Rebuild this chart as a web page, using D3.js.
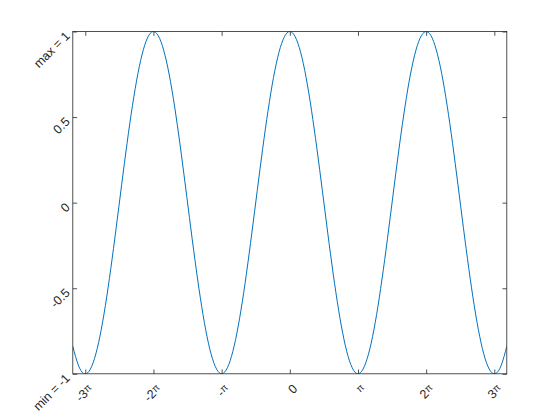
<!DOCTYPE html>
<html>
<head>
<meta charset="utf-8">
<script src="https://cdn.jsdelivr.net/npm/d3@7"></script>
<style>
  body { margin: 0; background: #fff; }
  text { font-family: "Liberation Sans", Arial, sans-serif; }
</style>
</head>
<body>
<svg id="chart" width="560" height="420"></svg>
<script>
const xs = [-10, -9.75, -9.5, -9.25, -9, -8.75, -8.5, -8.25, -8, -7.75, -7.5, -7.25,
  -7, -6.75, -6.5, -6.25, -6, -5.75, -5.5, -5.25, -5, -4.75, -4.5, -4.25,
  -4, -3.75, -3.5, -3.25, -3, -2.75, -2.5, -2.25, -2, -1.75, -1.5, -1.25,
  -1, -0.75, -0.5, -0.25, 0, 0.25, 0.5, 0.75, 1, 1.25, 1.5, 1.75,
  2, 2.25, 2.5, 2.75, 3, 3.25, 3.5, 3.75, 4, 4.25, 4.5, 4.75,
  5, 5.25, 5.5, 5.75, 6, 6.25, 6.5, 6.75, 7, 7.25, 7.5, 7.75,
  8, 8.25, 8.5, 8.75, 9, 9.25, 9.5, 9.75, 10];
const ys = [-0.839, -0.948, -0.998, -0.985, -0.911, -0.781, -0.602, -0.386, -0.146, 0.104, 0.347, 0.568,
  0.754, 0.893, 0.977, 0.999, 0.960, 0.861, 0.709, 0.512, 0.284, 0.038, -0.211, -0.446,
  -0.654, -0.821, -0.936, -0.994, -0.990, -0.924, -0.801, -0.628, -0.416, -0.178, 0.071, 0.315,
  0.540, 0.732, 0.878, 0.969, 1.000, 0.969, 0.878, 0.732, 0.540, 0.315, 0.071, -0.178,
  -0.416, -0.628, -0.801, -0.924, -0.990, -0.994, -0.936, -0.821, -0.654, -0.446, -0.211, 0.038,
  0.284, 0.512, 0.709, 0.861, 0.960, 0.999, 0.977, 0.893, 0.754, 0.568, 0.347, 0.104,
  -0.146, -0.386, -0.602, -0.781, -0.911, -0.985, -0.998, -0.948, -0.839];

const xTicks = [-3 * Math.PI, -2 * Math.PI, -Math.PI, 0, Math.PI, 2 * Math.PI, 3 * Math.PI];
const xTickLabels = [["-3", "π"], ["-2", "π"], ["-", "π"], ["0", ""], ["", "π"], ["2", "π"], ["3", "π"]];
const yTicks = [-1, -0.5, 0, 0.5, 1];
const yTickLabels = ["min = -1", "-0.5", "0", "0.5", "max = 1"];

const svg = d3.select("#chart");
const ml = 72.8, mt = 31.5, w = 434, h = 342.3;
const ink = "#262626";
const tl = 4.3;
const fs = 12.5;

const x = d3.scaleLinear().domain([-10, 10]).range([ml, ml + w]);
const y = d3.scaleLinear().domain([-1, 1]).range([mt + h, mt]);

const pts = xs.map((d, i) => [d, ys[i]]);

svg.append("clipPath").attr("id", "clip")
  .append("rect").attr("x", ml).attr("y", mt).attr("width", w).attr("height", h);

svg.append("path")
  .datum(pts)
  .attr("clip-path", "url(#clip)")
  .attr("fill", "none")
  .attr("stroke", "#0072BD")
  .attr("stroke-width", 1)
  .attr("d", d3.line().x(d => x(d[0])).y(d => y(d[1])).curve(d3.curveNatural));

// ticks on all four sides, pointing inward
const bottomAx = svg.append("g").attr("transform", `translate(0,${mt + h})`)
  .call(d3.axisBottom(x).tickValues(xTicks).tickSizeInner(-tl).tickSizeOuter(0).tickFormat(""));
svg.append("g").attr("transform", `translate(0,${mt})`)
  .call(d3.axisTop(x).tickValues(xTicks).tickSizeInner(-tl).tickSizeOuter(0).tickFormat(""));
const leftAx = svg.append("g").attr("transform", `translate(${ml},0)`)
  .call(d3.axisLeft(y).tickValues(yTicks).tickSizeInner(-tl).tickSizeOuter(0).tickFormat(""));
svg.append("g").attr("transform", `translate(${ml + w},0)`)
  .call(d3.axisRight(y).tickValues(yTicks).tickSizeInner(-tl).tickSizeOuter(0).tickFormat(""));

svg.selectAll(".domain").remove();
svg.selectAll(".tick line").attr("stroke", ink).attr("stroke-width", 0.8);

// x tick labels, rotated 45 degrees
bottomAx.selectAll(".tick").each(function (d, i) {
  const lab = xTickLabels[i];
  const t = d3.select(this).append("text")
    .attr("fill", ink)
    .attr("font-size", fs)
    .attr("text-anchor", "end")
    .attr("dominant-baseline", "central")
    .attr("transform", "translate(5,13) rotate(-45)");
  t.append("tspan").text(lab[0]);
  if (lab[1]) t.append("tspan")
    .attr("font-size", fs * 0.8).attr("dy", -2).text(lab[1]);
});

// y tick labels, rotated 45 degrees
leftAx.selectAll(".tick").each(function (d, i) {
  d3.select(this).append("text")
    .attr("fill", ink)
    .attr("font-size", fs)
    .attr("text-anchor", "end")
    .attr("dominant-baseline", "central")
    .attr("transform", "translate(-5,2) rotate(-45)")
    .text(yTickLabels[i]);
});

svg.append("rect")
  .attr("x", ml).attr("y", mt).attr("width", w).attr("height", h)
  .attr("fill", "none").attr("stroke", ink).attr("stroke-width", 0.8);
</script>
</body>
</html>
